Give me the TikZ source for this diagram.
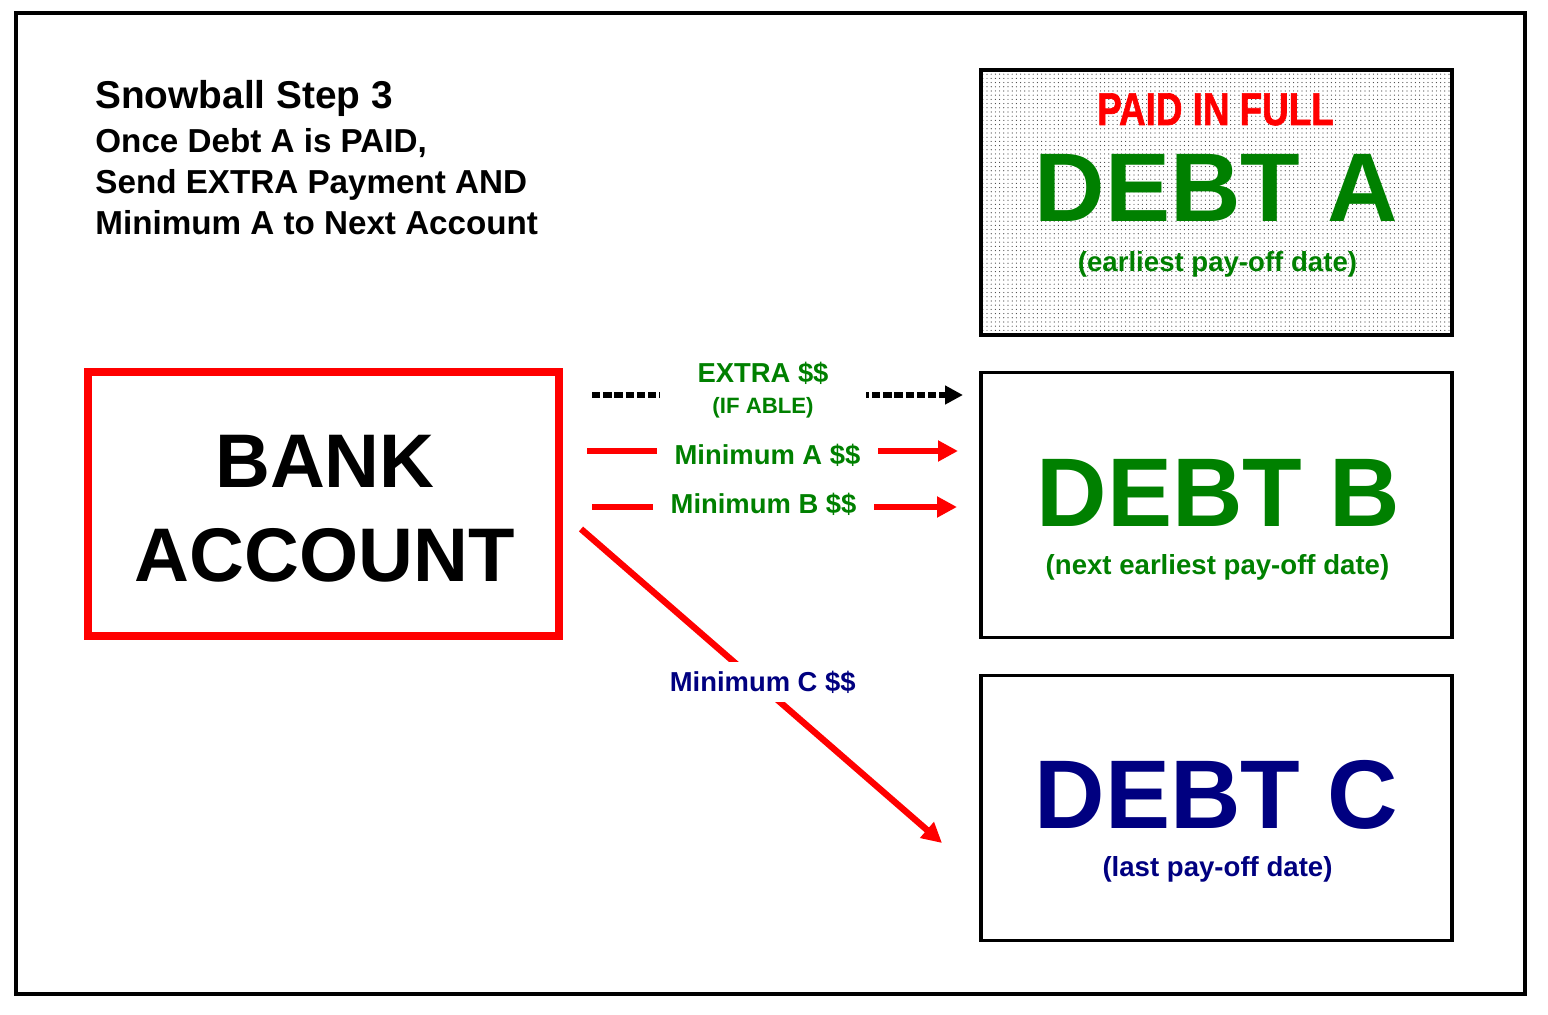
\documentclass[tikz,border=0pt]{standalone}
\usepackage{fontspec}
\usepackage{graphicx}
\setmainfont{Liberation Sans}
\newfontfamily\paidfont[FakeBold=1.5]{Liberation Sans Bold}
\usetikzlibrary{arrows.meta,patterns.meta}
\definecolor{dgreen}{RGB}{0,128,0}
\definecolor{dnavy}{RGB}{0,0,128}
\begin{document}
\begin{tikzpicture}[x=0.5pt,y=-0.5pt,
  frame/.style={draw=black,line width=2pt},
  debtbox/.style={draw=black,line width=1.6pt,minimum width=235.5pt,minimum height=132.5pt,inner sep=0pt},
  bankbox/.style={draw=red,line width=4pt,minimum width=235.5pt,minimum height=131.75pt,inner sep=0pt},
  bigtxt/.style={anchor=base,inner sep=0pt,font=\fontsize{48.8}{50}\selectfont\bfseries},
  banktxt/.style={anchor=base,inner sep=0pt,font=\fontsize{38}{40}\selectfont\bfseries},
  subtxt/.style={anchor=base,inner sep=0pt,font=\fontsize{13.8}{16}\selectfont\bfseries},
  titletxt/.style={anchor=base west,inner sep=0pt,font=\fontsize{16.6}{18}\selectfont\bfseries},
  lbl/.style={fill=white,inner ysep=0pt,font=\fontsize{13.7}{15.5}\selectfont\bfseries,text=dgreen},
  payarrow/.style={draw=red,line width=3.2pt,-{Triangle[length=10pt,width=10pt]}},
  dotarrow/.style={draw=black,line width=3.2pt,dash pattern=on 4.2pt off 1.4pt,-{Triangle[length=9pt,width=9pt]}}
]
\useasboundingbox (0,0) rectangle (1548,1015);
\path[frame] (16,13) rectangle (1525,993.5);

% title
\node[titletxt,font=\fontsize{19.4}{21}\selectfont\bfseries] (t1) at (95,109) {Snowball Step 3};
\node[titletxt] (t2) at (95,153) {Once Debt A is PAID,};
\node[titletxt] (t3) at (95,194) {Send EXTRA Payment AND};
\node[titletxt] (t4) at (95,235) {Minimum A to Next Account};

% bank
\node[bankbox] (bank) at (323.5,504.25) {};
\node[banktxt] (bank1) at (325,488) {BANK};
\node[banktxt] (bank2) at (324.5,582) {ACCOUNT};

% debt A
\node[debtbox,pattern={Dots[distance=2.1pt,radius=0.3pt]},pattern color=black!75] (A) at (1216.5,202.5) {};
\node[anchor=base,inner sep=0pt,text=red,font=\fontsize{23}{25}\paidfont] (paid) at (1215.5,125) {\scalebox{0.8}[1]{PAID IN FULL}};
\node[bigtxt,text=dgreen] (Aname) at (1216.5,222) {DEBT A};
\node[subtxt,text=dgreen] (Asub) at (1217.5,272) {(earliest pay-off date)};

% debt B
\node[debtbox] (B) at (1216.5,505) {};
\node[bigtxt,text=dgreen] (Bname) at (1218.5,527) {DEBT B};
\node[subtxt,text=dgreen] (Bsub) at (1217.5,575) {(next earliest pay-off date)};

% debt C
\node[debtbox] (C) at (1216.5,808) {};
\node[bigtxt,text=dnavy] (Cname) at (1216.5,828) {DEBT C};
\node[subtxt,text=dnavy] (Csub) at (1217.5,876) {(last pay-off date)};

% connectors
\coordinate (xs) at (592,395);
\coordinate (xe) at (963,395);
\draw[dotarrow] (xs) -- node[lbl,pos=0.461,yshift=2.5pt,align=center,minimum width=103pt,inner xsep=0pt] (lx) {EXTRA \$\$\\{\fontsize{11.1}{13}\selectfont (IF ABLE)}} (xe);

\coordinate (as) at (587,451);
\coordinate (ae) at (958,451);
\draw[payarrow] (as) -- node[lbl,pos=0.4865,yshift=-2pt,inner xsep=9pt] (la) {Minimum A \$\$} (ae);

\coordinate (bs) at (592,507);
\coordinate (be) at (957,507);
\draw[payarrow] (bs) -- node[lbl,pos=0.47,yshift=1.5pt,inner xsep=9pt] (lb) {Minimum B \$\$} (be);

\coordinate (cs) at (581,529);
\coordinate (ce) at (942,843);
\draw[payarrow] (cs) -- node[lbl,pos=0.484,xshift=3.5pt,yshift=-0.5pt,text=dnavy,minimum height=20pt,inner xsep=2pt] (lc) {Minimum C \$\$} (ce);
\end{tikzpicture}
\end{document}
